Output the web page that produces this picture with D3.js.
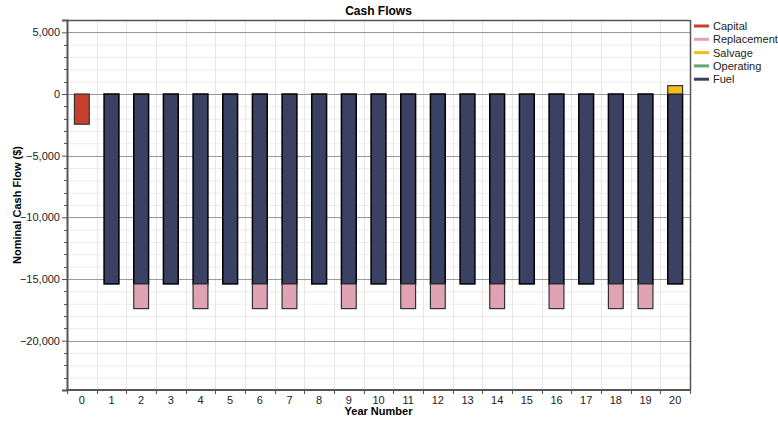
<!DOCTYPE html>
<html><head><meta charset="utf-8">
<script src="https://cdn.jsdelivr.net/npm/d3@7"></script>
<style>body{margin:0;background:#fff;}svg{display:block;font-family:"Liberation Sans",Arial,sans-serif;}</style>
</head><body><div id="chart"></div>
<script>
const years = d3.range(0, 21).map(String);
const capital     = [-2450,0,0,0,0,0,0,0,0,0,0,0,0,0,0,0,0,0,0,0,0];
const replacement = [0,0,-2000,0,-2000,0,-2000,-2000,0,-2000,0,-2000,-2000,0,-2000,0,-2000,0,-2000,-2000,0];
const salvage     = [0,0,0,0,0,0,0,0,0,0,0,0,0,0,0,0,0,0,0,0,680];
const operating   = [0,0,0,0,0,0,0,0,0,0,0,0,0,0,0,0,0,0,0,0,0];
const fuel        = [0,-15400,-15400,-15400,-15400,-15400,-15400,-15400,-15400,-15400,-15400,-15400,-15400,-15400,-15400,-15400,-15400,-15400,-15400,-15400,-15400];
const seriesNames = ["Capital","Replacement","Salvage","Operating","Fuel"];
const seriesColors = ["#c7402e","#e0a3b4","#f6bc1e","#5fa86b","#3a4163"];
const yTicks = [5000,0,-5000,-10000,-15000,-20000];

const W = 778, H = 421;
const m = {left:67, right:88, top:20, bottom:31};
const svg = d3.select("#chart").append("svg").attr("width",W).attr("height",H);

const x = d3.scaleBand().domain(years).range([m.left, W-m.right]).paddingInner(0.5).paddingOuter(0.25);
const xb = d3.scaleBand().domain(years).range([m.left, W-m.right]);
const y = d3.scaleLinear().domain([-24000, 6000]).range([H-m.bottom, m.top]);

const rows = years.map((yr,i)=>({year:yr, Capital:capital[i], Replacement:replacement[i], Salvage:salvage[i], Operating:operating[i], Fuel:fuel[i]}));
const stackKeys = ["Fuel","Replacement","Capital","Salvage","Operating"];
const stacked = d3.stack().keys(stackKeys).offset(d3.stackOffsetDiverging)(rows);
const colorOf = k => seriesColors[seriesNames.indexOf(k)];

// minor grid
const g = svg.append("g");
const minorVals = d3.range(-24000, 6001, 1000);
g.selectAll(".hmin").data(minorVals).enter().append("line")
  .attr("x1",m.left).attr("x2",W-m.right).attr("y1",d=>y(d)+0.5).attr("y2",d=>y(d)+0.5)
  .attr("stroke","#ececec").attr("stroke-width",1);
g.selectAll(".vmin").data(years.slice(1)).enter().append("line")
  .attr("x1",d=>Math.round(xb(d))+0.5).attr("x2",d=>Math.round(xb(d))+0.5).attr("y1",m.top).attr("y2",H-m.bottom)
  .attr("stroke","#e6e6e6").attr("stroke-width",1);
g.selectAll(".hmaj").data(yTicks).enter().append("line")
  .attr("x1",m.left).attr("x2",W-m.right).attr("y1",d=>Math.round(y(d))+0.5).attr("y2",d=>Math.round(y(d))+0.5)
  .attr("stroke","#9a9a9a").attr("stroke-width",1);

// bars
stacked.forEach(s=>{
  svg.append("g").selectAll("rect").data(s.filter(d=>d[1]!==d[0])).enter().append("rect")
    .attr("x",d=>x(d.data.year)).attr("width",x.bandwidth())
    .attr("y",d=>y(Math.max(d[0],d[1]))).attr("height",d=>Math.abs(y(d[0])-y(d[1])))
    .attr("fill",colorOf(s.key)).attr("stroke",s.key==="Fuel"?"#000":"#333").attr("stroke-width",s.key==="Fuel"?1.5:1.2);
});

// frame
svg.append("line").attr("x1",m.left).attr("x2",W-m.right).attr("y1",m.top+0.5).attr("y2",m.top+0.5).attr("stroke","#555").attr("stroke-width",1.5);
svg.append("line").attr("x1",W-m.right+0.5).attr("x2",W-m.right+0.5).attr("y1",m.top).attr("y2",H-m.bottom).attr("stroke","#555").attr("stroke-width",1.5);

// y axis
const yAxis = svg.append("g").attr("transform",`translate(${m.left},0)`)
  .call(d3.axisLeft(y).tickValues(yTicks).tickFormat(d3.format(",")).tickSize(5).tickPadding(2));
yAxis.select(".domain").attr("stroke","#555").attr("stroke-width",2);
yAxis.selectAll(".tick line").attr("stroke","#555");
yAxis.selectAll("text").attr("font-size",11).attr("fill","#222");
svg.append("g").selectAll("line").data(minorVals.filter(v=>v%5000!==0)).enter().append("line")
  .attr("x1",m.left-3).attr("x2",m.left).attr("y1",d=>Math.round(y(d))+0.5).attr("y2",d=>Math.round(y(d))+0.5).attr("stroke","#555");

// x axis
const xAxis = svg.append("g").attr("transform",`translate(0,${H-m.bottom})`)
  .call(d3.axisBottom(x).tickSize(0).tickPadding(6));
xAxis.select(".domain").remove();
xAxis.selectAll("text").attr("font-size",11).attr("fill","#222");
svg.append("line").attr("x1",m.left-1).attr("x2",W-m.right+1).attr("y1",H-m.bottom).attr("y2",H-m.bottom).attr("stroke","#555").attr("stroke-width",2);
svg.append("g").selectAll("line").data(years.concat(["end"])).enter().append("line")
  .attr("x1",(d,i)=>Math.round(m.left+i*xb.step())+0.5).attr("x2",(d,i)=>Math.round(m.left+i*xb.step())+0.5)
  .attr("y1",H-m.bottom).attr("y2",H-m.bottom+4).attr("stroke","#555");

// title & labels
svg.append("text").attr("x",(m.left+W-m.right)/2).attr("y",15).attr("text-anchor","middle")
  .attr("font-size",12).attr("font-weight","bold").text("Cash Flows");
svg.append("text").attr("x",(m.left+W-m.right)/2).attr("y",415).attr("text-anchor","middle")
  .attr("font-size",11).attr("font-weight","bold").text("Year Number");
svg.append("text").attr("transform",`translate(21,${(m.top+H-m.bottom)/2}) rotate(-90)`).attr("text-anchor","middle")
  .attr("font-size",11).attr("font-weight","bold").text("Nominal Cash Flow ($)");

// legend
const lg = svg.append("g").attr("transform",`translate(694,26)`);
seriesNames.forEach((n,i)=>{
  lg.append("line").attr("x1",0).attr("x2",15).attr("y1",i*13.3).attr("y2",i*13.3)
    .attr("stroke",seriesColors[i]).attr("stroke-width",3);
  lg.append("text").attr("x",19).attr("y",i*13.3+4).attr("font-size",11).attr("fill","#222").text(n);
});
</script></body></html>
